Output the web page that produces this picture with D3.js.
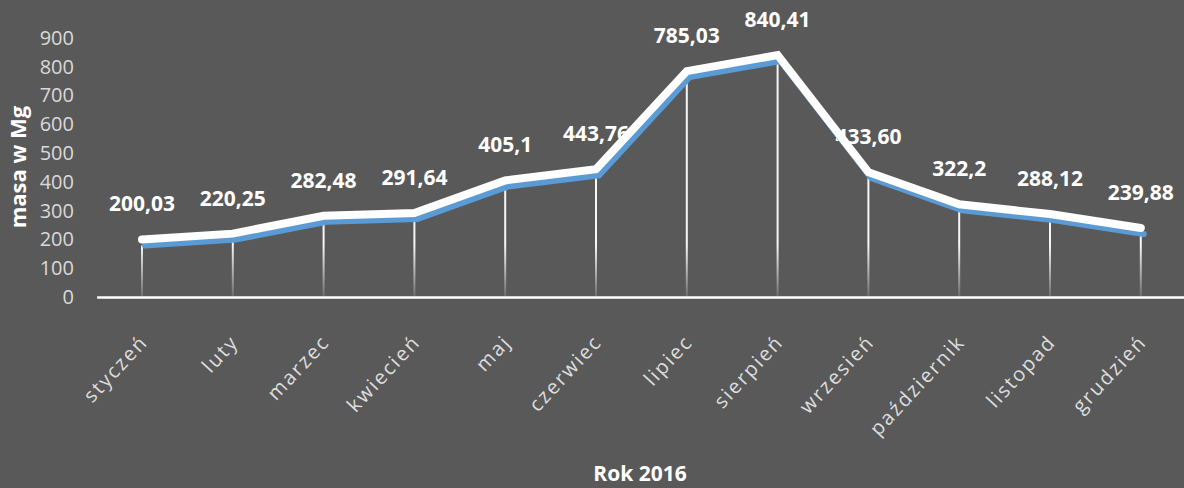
<!DOCTYPE html>
<html>
<head>
<meta charset="utf-8">
<script src="https://cdn.jsdelivr.net/npm/d3@7"></script>
<style>
  html, body { margin: 0; padding: 0; background: #595959; }
  svg { display: block; font-family: "Open Sans", sans-serif; }
</style>
</head>
<body>
<div id="chart"></div>
<script>
var months = ["styczeń", "luty", "marzec", "kwiecień", "maj", "czerwiec",
    "lipiec", "sierpień", "wrzesień", "październik", "listopad", "grudzień"];
var values = [200.03, 220.25, 282.48, 291.64, 405.1, 443.76,
    785.03, 840.41, 433.60, 322.2, 288.12, 239.88];
var valueLabels = ["200,03", "220,25", "282,48", "291,64", "405,1", "443,76",
    "785,03", "840,41", "433,60", "322,2", "288,12", "239,88"];
var yTicks = [0, 100, 200, 300, 400, 500, 600, 700, 800, 900];

var width = 1184, height = 488;

var data = months.map(function(m, i) {
    return { month: m, value: values[i], label: valueLabels[i] };
});

var svg = d3.select("#chart").append("svg")
    .attr("width", width)
    .attr("height", height);

svg.append("rect")
    .attr("width", width)
    .attr("height", height)
    .attr("fill", "#595959");

// scales
var x = d3.scaleBand().domain(months).range([96.6, 1186.2]).padding(0);
var y = d3.scaleLinear().domain([0, 900]).range([297, 38]);

function cx(d) { return x(d.month) + x.bandwidth() / 2; }

// gradient for the drop lines
var defs = svg.append("defs");
var grad = defs.append("linearGradient")
    .attr("id", "dropFade")
    .attr("gradientUnits", "userSpaceOnUse")
    .attr("x1", 0).attr("x2", 0)
    .attr("y1", y(180)).attr("y2", y(0));
grad.append("stop").attr("offset", "0%").attr("stop-color", "#ffffff").attr("stop-opacity", 0.95);
grad.append("stop").attr("offset", "100%").attr("stop-color", "#ffffff").attr("stop-opacity", 0.12);

// y axis (labels only)
var yAxis = svg.append("g")
    .attr("transform", "translate(74,0)")
    .call(d3.axisLeft(y).tickValues(yTicks).tickSize(0).tickPadding(0));
yAxis.select(".domain").remove();
yAxis.selectAll("text")
    .attr("fill", "#d9d9d9")
    .style("font-size", "20px")
    .style("font-family", "'Open Sans', sans-serif");

// x axis
var xAxis = svg.append("g")
    .attr("transform", "translate(0," + y(0) + ")")
    .call(d3.axisBottom(x).tickSize(0).tickPadding(0));
xAxis.select(".domain")
    .attr("stroke", "#ffffff")
    .attr("stroke-width", 2.5);
xAxis.selectAll("text")
    .attr("fill", "#dedede")
    .style("font-size", "20px")
    .style("letter-spacing", "2px")
    .style("font-family", "'Open Sans', sans-serif")
    .attr("text-anchor", "end")
    .attr("dy", 0)
    .attr("y", 0)
    .attr("transform", "translate(7,46) rotate(-47)");

// data labels (behind the lines)
svg.append("g").selectAll("text")
    .data(data)
    .enter().append("text")
    .attr("x", cx)
    .attr("y", function(d) { return y(d.value) - 28; })
    .attr("text-anchor", "middle")
    .attr("fill", "#ffffff")
    .style("font-size", "21px")
    .style("font-weight", "bold")
    .text(function(d) { return d.label; });

// drop lines
svg.append("g").selectAll("line")
    .data(data)
    .enter().append("line")
    .attr("x1", cx)
    .attr("x2", cx)
    .attr("y1", function(d) { return y(d.value) + 6; })
    .attr("y2", y(0) - 1)
    .attr("stroke", "url(#dropFade)")
    .attr("stroke-width", 2);

var line = d3.line()
    .x(cx)
    .y(function(d) { return y(d.value); });

// blue shifted line
svg.append("path")
    .datum(data)
    .attr("transform", "translate(3,6)")
    .attr("d", line)
    .attr("fill", "none")
    .attr("stroke", "#5b9bd5")
    .attr("stroke-width", 6)
    .attr("stroke-linecap", "round");

// white main line
svg.append("path")
    .datum(data)
    .attr("d", line)
    .attr("fill", "none")
    .attr("stroke", "#ffffff")
    .attr("stroke-width", 8)
    .attr("stroke-linejoin", "miter")
    .attr("stroke-linecap", "round");

// axis titles
svg.append("text")
    .attr("transform", "translate(26,167) rotate(-90)")
    .attr("text-anchor", "middle")
    .attr("fill", "#ffffff")
    .style("font-size", "22px")
    .style("font-weight", "bold")
    .text("masa w Mg");

svg.append("text")
    .attr("x", 640)
    .attr("y", 481)
    .attr("text-anchor", "middle")
    .attr("fill", "#ffffff")
    .style("font-size", "21px")
    .style("font-weight", "bold")
    .text("Rok 2016");
</script>
</body>
</html>
